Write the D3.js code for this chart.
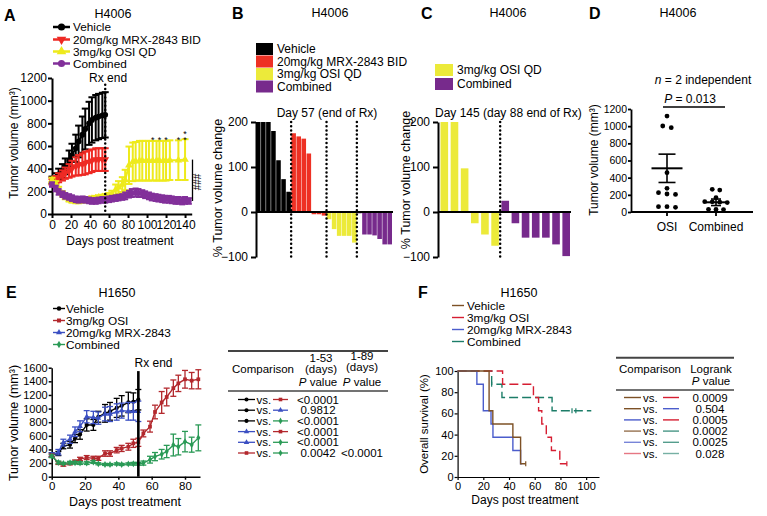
<!DOCTYPE html>
<html><head><meta charset="utf-8">
<script src="https://cdn.jsdelivr.net/npm/d3@7"></script>
<style>
body{margin:0;background:#fff}
svg{display:block}
text{font-family:"Liberation Sans",Arial,Helvetica,sans-serif;fill:#000}
</style>
</head><body>
<svg id="c" width="767" height="516"></svg>
<script>
// ---------------- DATA ----------------
// Panel A (H4006 growth)
const aDays = [0,4,7,11,14,18,21,25,28,32,35,39,42,46,49,53,56];
const aVehMean = [300,320,350,380,420,470,520,580,640,700,750,800,830,850,860,870,875];
const aVehSem  = [30,40,50,60,70,90,100,120,140,160,180,190,200,200,200,200,200];
const aMrxMean = [290,300,320,340,360,380,400,420,430,440,450,460,470,480,480,480,480];
const aMrxSem  = [30,35,40,45,50,60,70,80,90,95,100,100,100,100,100,100,100];
const aOsiDays = [0,4,7,11,14,18,21,25,28,32,35,39,42,46,49,53,56,60,63,67,70,74,77,81,85,88,92,95,99,102,106,110,113,117,120,124,133,140];
const aOsiMean = [300,270,220,180,150,130,120,115,115,120,125,130,135,140,145,150,155,160,175,215,235,260,300,430,460,465,470,470,470,470,470,470,470,470,470,475,475,480];
const aOsiSem  = [20,20,20,20,20,20,20,20,20,20,20,20,20,20,20,20,20,25,30,45,55,65,90,165,170,170,175,175,175,175,175,175,175,175,175,175,175,180];
const aCombDays = [0,4,7,11,14,18,21,25,28,32,35,39,42,46,49,53,56,60,63,67,70,74,77,81,84,88,91,95,98,102,105,109,112,116,119,123,126,130,133,137,140,144];
const aCombMean = [260,225,195,175,160,150,140,130,125,130,125,120,115,115,120,125,125,130,135,140,145,150,160,175,185,190,185,180,170,160,150,145,140,135,130,130,125,120,120,115,120,115];
const aCombSem  = [20,25,25,25,25,25,25,25,25,25,25,25,25,25,25,25,25,25,25,25,25,25,30,30,35,35,35,30,30,30,30,30,30,30,30,30,30,30,30,30,30,25];
const aStarDays = [106,113,120,133,140];
const aStarCount = [1,1,1,1,2];
const aLegend = ["Vehicle","20mg/kg MRX-2843 BID","3mg/kg OSI QD","Combined"];

// Panel B (waterfall day 57)
const bVehicle = [200,200,200,180,115,73,45];
const bMrx = [175,168,163,130,-5,-5,-8];
const bOsi = [-16,-38,-53,-53,-53,-68];
const bComb = [-3,-50,-50,-52,-60,-72,-72];
const bLegend = ["Vehicle","20mg/kg MRX-2843 BID","3mg/kg OSI QD","Combined"];

// Panel C (waterfall day 145)
const cOsi = [200,200,97,-25,-50,-75];
const cComb = [25,-25,-57,-57,-57,-72,-98];
const cLegend = ["3mg/kg OSI QD","Combined"];

// Panel D (scatter)
const dCats = ["OSI","Combined"];
const dOsi = [1118,1002,983,458,276,225,210,205,62,55,62];
const dComb = [264,256,167,120,118,115,110,31,28,30];
const dMean = [509,113];
const dSem = [165,38];

// Panel E (H1650 growth)
const eDays = [0,4,7,11,14,17,21,25,28,32,35,39,42,46,49,52];
const eVehMean = [320,340,450,470,560,620,760,760,880,930,960,1010,1040,1090,1100,1130];
const eVehSem  = [30,30,40,50,60,70,90,80,80,130,130,140,150,150,130,150];
const eMrxMean = [320,360,500,550,660,740,880,870,860,920,920,950,970,960,960,960];
const eMrxSem  = [30,40,50,60,70,80,90,90,90,100,110,120,110,130,130,150];
const eLongDays = [0,4,7,11,14,17,21,25,28,32,35,39,42,46,49,52,55,59,62,66,69,73,76,80,84,88];
const eOsiMean = [310,200,175,195,220,260,280,270,270,340,340,390,415,440,490,505,635,735,950,1090,1170,1300,1370,1430,1410,1430];
const eOsiSem  = [20,20,20,20,25,25,30,30,30,40,40,40,45,50,60,60,50,80,100,160,130,120,120,130,120,140];
const eCombMean = [300,210,195,205,205,200,200,215,190,180,178,188,180,188,190,190,200,250,295,330,370,465,440,515,470,570];
const eCombSem  = [20,20,15,20,20,20,20,20,15,15,15,15,15,15,20,20,30,50,60,70,90,160,120,150,110,190];
const eLegend = ["Vehicle","3mg/kg OSI","20mg/kg MRX-2843","Combined"];
const eCmpRows = [["Vehicle","OSI"],["Vehicle","MRX"],["Vehicle","Combined"],["MRX","OSI"],["MRX","Combined"],["OSI","Combined"]];
const eP53 = ["<0.0001","0.9812","<0.0001","<0.0001","<0.0001","0.0042"];
const eP89 = ["","","","","","<0.0001"];

// Panel F (survival)
const fVehT = [0,24.5,27.4,43,49,53];
const fVehS = [100,62.5,50,37.5,12.5,12.5];
const fMrxT = [0,15,20,26,27.5,43,49,50];
const fMrxS = [100,87.5,62.5,50,37.5,25,12.5,12.5];
const fOsiT = [0,35,59,63,65.5,69,73,79.5,85];
const fOsiS = [100,87.5,75,62.5,50,37.5,25,12.5,12.5];
const fCombT = [0,26.5,34.5,73.5,104];
const fCombS = [100,87.5,75,62.5,62.5];
const fCensorVeh = [53], fCensorOsi = [85], fCensorComb = [26.5,89,92];
const fLegend = ["Vehicle","3mg/kg OSI","20mg/kg MRX-2843","Combined"];
const fCmpRows = [["Vehicle","OSI"],["Vehicle","MRX"],["MRX","OSI"],["Vehicle","Combined"],["MRX","Combined"],["OSI","Combined"]];
const fP = ["0.0009","0.504","0.0005","0.0002","0.0025","0.028"];

// ---------------- DRAW ----------------
const FONT = '"Liberation Sans", Arial, Helvetica, sans-serif';
const svg = d3.select("#c");
const intFmt = d3.format("d");

function txt(g, x, y, s, o = {}) {
  const t = g.append("text").attr("x", x).attr("y", y)
    .attr("font-size", o.fs || 12).attr("text-anchor", o.anchor || "start").text(s);
  if (o.bold) t.attr("font-weight", "bold");
  if (o.rot) t.attr("transform", `rotate(-90,${x},${y})`);
  return t;
}
function axisStyle(g, fs, sw) {
  g.attr("font-family", FONT).attr("font-size", fs);
  g.select(".domain").attr("stroke-width", sw).attr("stroke", "#000");
  g.selectAll(".tick line").attr("stroke-width", sw).attr("stroke", "#000");
  g.selectAll(".tick text").attr("fill", "#000");
}
function errSeries(g, xs, ys, days, mean, sem, o) {
  const grp = g.append("g");
  const idx = d3.range(days.length);
  grp.selectAll(null).data(idx).enter().append("line")
    .attr("x1", i => xs(days[i])).attr("x2", i => xs(days[i]))
    .attr("y1", i => ys(mean[i] - sem[i])).attr("y2", i => ys(mean[i] + sem[i]))
    .attr("stroke", o.color).attr("stroke-width", o.ew);
  [1, -1].forEach(sg => {
    grp.selectAll(null).data(idx).enter().append("line")
      .attr("x1", i => xs(days[i]) - o.cap).attr("x2", i => xs(days[i]) + o.cap)
      .attr("y1", i => ys(mean[i] + sg * sem[i])).attr("y2", i => ys(mean[i] + sg * sem[i]))
      .attr("stroke", o.color).attr("stroke-width", o.ew);
  });
  grp.append("path").datum(idx)
    .attr("d", d3.line().x(i => xs(days[i])).y(i => ys(mean[i])))
    .attr("fill", "none").attr("stroke", o.color).attr("stroke-width", o.lw);
  grp.selectAll(null).data(idx).enter().append("path")
    .attr("d", d3.symbol().type(o.sym).size(o.size))
    .attr("transform", i => `translate(${xs(days[i])},${ys(mean[i])}) rotate(${o.rot || 0})`)
    .attr("fill", o.color);
}

// ===== Panel A =====
(function () {
  const g = svg.append("g");
  const x = d3.scaleLinear().domain([0, 147]).range([52, 191.7]);
  const y = d3.scaleLinear().domain([0, 1200]).range([214, 78]);
  txt(g, 4, 21, "A", { fs: 16, bold: true });
  txt(g, 113, 18, "H4006", { fs: 12.5, anchor: "middle" });
  g.append("g").attr("transform", "translate(0,214)")
    .call(d3.axisBottom(x).tickValues(d3.range(0, 141, 20)).tickFormat(intFmt).tickSize(4).tickPadding(2).tickSizeOuter(0))
    .call(a => axisStyle(a, 12, 2));
  g.append("g").attr("transform", "translate(52,0)")
    .call(d3.axisLeft(y).tickValues(d3.range(0, 1201, 200)).tickFormat(intFmt).tickSize(4).tickPadding(1).tickSizeOuter(0))
    .call(a => axisStyle(a, 12, 2));
  txt(g, 18, 143, "Tumor volume (mm³)", { fs: 12, anchor: "middle", rot: true });
  txt(g, 120, 245, "Days post treatment", { fs: 12, anchor: "middle" });

  const styles = [
    { color: "#000000", sym: d3.symbolCircle, size: 26, rot: 0 },
    { color: "#ee2a24", sym: d3.symbolTriangle, size: 26, rot: 180 },
    { color: "#eeea1c", sym: d3.symbolTriangle, size: 26, rot: 0 },
    { color: "#82309a", sym: d3.symbolCircle, size: 26, rot: 0 }
  ];
  errSeries(g, x, y, aDays, aVehMean, aVehSem, Object.assign({ ew: 2, cap: 3.5, lw: 2 }, styles[0]));
  errSeries(g, x, y, aDays, aMrxMean, aMrxSem, Object.assign({ ew: 2, cap: 3.5, lw: 2 }, styles[1]));
  errSeries(g, x, y, aOsiDays, aOsiMean, aOsiSem, Object.assign({ ew: 2, cap: 3.5, lw: 2 }, styles[2]));
  errSeries(g, x, y, aCombDays, aCombMean, aCombSem, Object.assign({ ew: 2, cap: 3, lw: 2 }, styles[3]));

  // Rx end dotted line
  g.append("line").attr("x1", x(56)).attr("x2", x(56)).attr("y1", y(1140)).attr("y2", y(0))
    .attr("stroke", "#000").attr("stroke-width", 2.5).attr("stroke-dasharray", "0,4.2").attr("stroke-linecap", "round");
  txt(g, x(59), 82, "Rx end", { fs: 12, anchor: "middle" });

  // stars (stacked stars drawn as one text with tspans)
  aStarDays.forEach((d, i) => {
    const t = txt(g, x(d), y(620) - 1, "", { fs: 9, anchor: "middle" });
    for (let k = 0; k < aStarCount[i]; k++) {
      t.append("tspan").attr("x", x(d)).attr("dy", k === 0 ? 0 : -6).text("*");
    }
  });
  // ### bracket
  const last = aOsiMean.length - 1, lastC = aCombMean.length - 1;
  g.append("line").attr("x1", 192.5).attr("x2", 192.5)
    .attr("y1", y(aOsiMean[last])).attr("y2", y(aCombMean[lastC]))
    .attr("stroke", "#000").attr("stroke-width", 1.3);
  txt(g, 201, 182, "###", { fs: 10, anchor: "middle", rot: true });

  // legend
  const ly = [27, 39.5, 51.5, 63.5];
  aLegend.forEach((s, i) => {
    g.append("line").attr("x1", 53).attr("x2", 70).attr("y1", ly[i]).attr("y2", ly[i])
      .attr("stroke", styles[i].color).attr("stroke-width", 2.5);
    g.append("path").attr("d", d3.symbol().type(styles[i].sym).size(40))
      .attr("transform", `translate(61.5,${ly[i]}) rotate(${styles[i].rot})`).attr("fill", styles[i].color);
    txt(g, 73, ly[i] + 4.2, s, { fs: 11.8 });
  });
})();

// ===== Waterfall helper =====
function waterfall(g, groups, range, pad, yAxisX) {
  const all = [];
  groups.forEach((gr, gi) => gr.vals.forEach(v => all.push({ v, gi })));
  const x = d3.scaleBand().domain(d3.range(all.length)).range(range).paddingInner(pad).paddingOuter(0);
  const y = d3.scaleLinear().domain([-100, 200]).range([257, 122]);
  g.selectAll(null).data(all).enter().append("rect")
    .attr("x", (d, i) => x(i)).attr("width", x.bandwidth())
    .attr("y", d => Math.min(y(d.v), y(0))).attr("height", d => Math.abs(y(d.v) - y(0)))
    .attr("fill", d => groups[d.gi].color);
  let start = 0;
  const bounds = [];
  groups.forEach((gr, gi) => { if (gi > 0) bounds.push(start); start += gr.vals.length; });
  bounds.forEach(b => {
    const bx = x(b) - x.step() * pad / 2;
    g.append("line").attr("x1", bx).attr("x2", bx).attr("y1", y(200)).attr("y2", 260)
      .attr("stroke", "#000").attr("stroke-width", 2.5).attr("stroke-dasharray", "0,4.2").attr("stroke-linecap", "round");
  });
  g.append("g").attr("transform", `translate(${yAxisX},0)`)
    .call(d3.axisLeft(y).tickValues([-100, 0, 100, 200]).tickFormat(intFmt).tickSize(5).tickPadding(3).tickSizeOuter(0))
    .call(a => axisStyle(a, 12, 2));
  g.append("line").attr("x1", yAxisX).attr("x2", range[1] + 1).attr("y1", y(0)).attr("y2", y(0))
    .attr("stroke", "#000").attr("stroke-width", 2);
  return { x, y };
}

// ===== Panel B =====
(function () {
  const g = svg.append("g");
  txt(g, 232, 19, "B", { fs: 16, bold: true });
  txt(g, 330, 17, "H4006", { fs: 12.5, anchor: "middle" });
  const cols = ["#000000", "#ee3124", "#ecea3a", "#772a8c"];
  waterfall(g, [
    { vals: bVehicle, color: cols[0] }, { vals: bMrx, color: cols[1] },
    { vals: bOsi, color: cols[2] }, { vals: bComb, color: cols[3] }], [256, 392], 0.1, 256);
  const ly = [49, 61.5, 74, 86.5];
  bLegend.forEach((s, i) => {
    g.append("rect").attr("x", 256).attr("y", ly[i] - 6).attr("width", 17).attr("height", 12).attr("fill", cols[i]);
    txt(g, 277, ly[i] + 4.3, s, { fs: 12 });
  });
  txt(g, 327, 117, "Day 57 (end of Rx)", { fs: 12, anchor: "middle" });
  txt(g, 222, 188, "% Tumor volume change", { fs: 12.5, anchor: "middle", rot: true });
})();

// ===== Panel C =====
(function () {
  const g = svg.append("g");
  txt(g, 421, 19, "C", { fs: 16, bold: true });
  txt(g, 508, 17, "H4006", { fs: 12.5, anchor: "middle" });
  const cols = ["#ecea3a", "#772a8c"];
  waterfall(g, [{ vals: cOsi, color: cols[0] }, { vals: cComb, color: cols[1] }], [440.5, 570], 0.25, 438);
  const ly = [70, 84];
  cLegend.forEach((s, i) => {
    g.append("rect").attr("x", 435).attr("y", ly[i] - 6).attr("width", 18).attr("height", 12).attr("fill", cols[i]);
    txt(g, 457, ly[i] + 4.3, s, { fs: 12 });
  });
  txt(g, 435, 117, "Day 145 (day 88 end of Rx)", { fs: 12 });
  txt(g, 410, 180, "% Tumor volume change", { fs: 12.5, anchor: "middle", rot: true });
})();

// ===== Panel D =====
(function () {
  const g = svg.append("g");
  txt(g, 589, 19, "D", { fs: 16, bold: true });
  txt(g, 678, 17, "H4006", { fs: 12.5, anchor: "middle" });
  const x = d3.scalePoint().domain(dCats).range([667, 716]);
  const y = d3.scaleLinear().domain([0, 1200]).range([212, 109]);
  g.append("g").attr("transform", "translate(631,0)")
    .call(d3.axisLeft(y).tickValues(d3.range(0, 1201, 200)).tickFormat(intFmt).tickSize(3).tickPadding(1).tickSizeOuter(0))
    .call(a => axisStyle(a, 10.5, 1.8));
  g.append("line").attr("x1", 631).attr("x2", 753).attr("y1", 212).attr("y2", 212).attr("stroke", "#000").attr("stroke-width", 2);
  dCats.forEach(c => {
    g.append("line").attr("x1", x(c)).attr("x2", x(c)).attr("y1", 212).attr("y2", 216).attr("stroke", "#000").attr("stroke-width", 1.8);
    txt(g, x(c), 231, c, { fs: 12, anchor: "middle" });
  });
  txt(g, 598, 160, "Tumor volume (mm³)", { fs: 12, anchor: "middle", rot: true });

  // beeswarm-like spread
  function spread(vals, thr, gap) {
    const sorted = vals.map((v, i) => ({ v, i })).sort((a, b) => b.v - a.v);
    const out = new Array(vals.length);
    let grp = [];
    const flush = () => { grp.forEach((p, k) => out[p.i] = (k - (grp.length - 1) / 2) * gap); grp = []; };
    sorted.forEach(p => { if (grp.length && grp[0].v - p.v > thr) flush(); grp.push(p); });
    flush();
    return out;
  }
  [dOsi, dComb].forEach((vals, ci) => {
    const off = spread(vals, ci === 0 ? 45 : 30, ci === 0 ? 8.5 : 7.5);
    g.selectAll(null).data(vals).enter().append("circle")
      .attr("cx", (d, i) => x(dCats[ci]) + off[i]).attr("cy", d => y(d)).attr("r", 2.4).attr("fill", "#000");
    const cx = x(dCats[ci]);
    const mw = ci === 0 ? 15.5 : 10, sw = ci === 0 ? 8.5 : 5;
    g.append("line").attr("x1", cx - mw).attr("x2", cx + mw).attr("y1", y(dMean[ci])).attr("y2", y(dMean[ci])).attr("stroke", "#000").attr("stroke-width", 2);
    g.append("line").attr("x1", cx).attr("x2", cx).attr("y1", y(dMean[ci] - dSem[ci])).attr("y2", y(dMean[ci] + dSem[ci])).attr("stroke", "#000").attr("stroke-width", 1.6);
    [1, -1].forEach(s => g.append("line").attr("x1", cx - sw).attr("x2", cx + sw)
      .attr("y1", y(dMean[ci] + s * dSem[ci])).attr("y2", y(dMean[ci] + s * dSem[ci])).attr("stroke", "#000").attr("stroke-width", 1.6));
  });
  const t1 = g.append("text").attr("x", 703).attr("y", 84).attr("font-size", 12).attr("text-anchor", "middle");
  t1.append("tspan").attr("font-style", "italic").text("n");
  t1.append("tspan").text(" = 2 independent");
  const t2 = g.append("text").attr("x", 690).attr("y", 103).attr("font-size", 12).attr("text-anchor", "middle");
  t2.append("tspan").attr("font-style", "italic").text("P");
  t2.append("tspan").text(" = 0.013");
  g.append("line").attr("x1", 663).attr("x2", 725).attr("y1", 107).attr("y2", 107).attr("stroke", "#000").attr("stroke-width", 1.3);
})();

// ===== Panel E =====
const eStyles = {
  Vehicle: { color: "#000000", sym: d3.symbolCircle, size: 14, rot: 0 },
  OSI: { color: "#b3282d", sym: d3.symbolSquare, size: 14, rot: 0 },
  MRX: { color: "#3b4fc2", sym: d3.symbolTriangle, size: 14, rot: 0 },
  Combined: { color: "#2a9a56", sym: d3.symbolDiamond, size: 14, rot: 0 }
};
(function () {
  const g = svg.append("g");
  txt(g, 6, 298, "E", { fs: 16, bold: true });
  txt(g, 117, 297, "H1650", { fs: 12.5, anchor: "middle" });
  const x = d3.scaleLinear().domain([0, 89]).range([51.7, 200]);
  const y = d3.scaleLinear().domain([0, 1600]).range([476.7, 367.7]);
  g.append("g").attr("transform", "translate(0,476.7)")
    .call(d3.axisBottom(x).tickValues([0, 20, 40, 60, 80]).tickFormat(intFmt).tickSize(3).tickPadding(2).tickSizeOuter(0))
    .call(a => axisStyle(a, 11.5, 1.5));
  g.append("g").attr("transform", "translate(51.7,0)")
    .call(d3.axisLeft(y).tickValues(d3.range(0, 1601, 200)).tickFormat(intFmt).tickSize(3).tickPadding(1).tickSizeOuter(0))
    .call(a => axisStyle(a, 11, 1.5));
  txt(g, 18, 423, "Tumor volume (mm³)", { fs: 12.5, anchor: "middle", rot: true });
  txt(g, 125, 506, "Days post treatment", { fs: 12.5, anchor: "middle" });
  const base = { ew: 1.3, cap: 3, lw: 1.4 };
  errSeries(g, x, y, eDays, eVehMean, eVehSem, Object.assign({}, base, eStyles.Vehicle));
  errSeries(g, x, y, eDays, eMrxMean, eMrxSem, Object.assign({}, base, eStyles.MRX));
  errSeries(g, x, y, eLongDays, eOsiMean, eOsiSem, Object.assign({}, base, eStyles.OSI));
  errSeries(g, x, y, eLongDays, eCombMean, eCombSem, Object.assign({}, base, eStyles.Combined));
  g.append("line").attr("x1", x(52)).attr("x2", x(52)).attr("y1", y(1550)).attr("y2", y(0)).attr("stroke", "#000").attr("stroke-width", 2.6);
  txt(g, 153.5, 367, "Rx end", { fs: 12, anchor: "middle" });
  const keys = ["Vehicle", "OSI", "MRX", "Combined"];
  const ly = [308.5, 320.5, 332.5, 344.5];
  eLegend.forEach((s, i) => {
    const st = eStyles[keys[i]];
    g.append("line").attr("x1", 53).attr("x2", 65).attr("y1", ly[i]).attr("y2", ly[i]).attr("stroke", st.color).attr("stroke-width", 1.4);
    g.append("path").attr("d", d3.symbol().type(st.sym).size(16)).attr("transform", `translate(59,${ly[i]})`).attr("fill", st.color);
    txt(g, 66, ly[i] + 4.2, s, { fs: 11.8 });
  });

  // table
  const t = svg.append("g");
  t.append("line").attr("x1", 228).attr("x2", 388).attr("y1", 351).attr("y2", 351).attr("stroke", "#444").attr("stroke-width", 2);
  t.append("line").attr("x1", 228).attr("x2", 388).attr("y1", 391).attr("y2", 391).attr("stroke", "#444").attr("stroke-width", 1.6);
  txt(t, 232, 373, "Comparison", { fs: 11.5 });
  const c1 = 318, c2 = 362;
  txt(t, c1 + 3, 362, "1-53", { fs: 11.5, anchor: "middle" });
  txt(t, c1 + 3, 372.5, "(days)", { fs: 11.5, anchor: "middle" });
  txt(t, c2, 360, "1-89", { fs: 11.5, anchor: "middle" });
  txt(t, c2, 370.5, "(days)", { fs: 11.5, anchor: "middle" });
  [c1, c2].forEach(cx => {
    const pv = t.append("text").attr("x", cx).attr("y", 386).attr("font-size", 11.5).attr("text-anchor", "middle");
    pv.append("tspan").attr("font-style", "italic").text("P");
    pv.append("tspan").text(" value");
  });
  eCmpRows.forEach((r, i) => {
    const ry = 399.5 + i * 10.7;
    [[238, 255], [273, 288]].forEach((xs, k) => {
      const st = eStyles[r[k]];
      t.append("line").attr("x1", xs[0]).attr("x2", xs[1]).attr("y1", ry).attr("y2", ry).attr("stroke", st.color).attr("stroke-width", 1.3);
      t.append("path").attr("d", d3.symbol().type(st.sym).size(13)).attr("transform", `translate(${(xs[0] + xs[1]) / 2},${ry})`).attr("fill", st.color);
    });
    txt(t, 256.5, ry + 4, "vs.", { fs: 11.5 });
    txt(t, c1, ry + 4, eP53[i], { fs: 11.5, anchor: "middle" });
    if (eP89[i]) txt(t, c2, ry + 4, eP89[i], { fs: 11.5, anchor: "middle" });
  });
})();

// ===== Panel F =====
const fStyles = {
  Vehicle: { color: "#7d5126", dash: null },
  OSI: { color: "#d61e32", dash: "9,4" },
  MRX: { color: "#4b5dcc", dash: null },
  Combined: { color: "#1c7d68", dash: "9,4" }
};
(function () {
  const g = svg.append("g");
  txt(g, 418, 298, "F", { fs: 16, bold: true });
  txt(g, 519, 297, "H1650", { fs: 12.5, anchor: "middle" });
  const x = d3.scaleLinear().domain([0, 110]).range([457.6, 599]);
  const y = d3.scaleLinear().domain([0, 100]).range([477, 371]);
  g.append("g").attr("transform", "translate(0,477)")
    .call(d3.axisBottom(x).tickValues([0, 20, 40, 60, 80, 100]).tickFormat(intFmt).tickSize(3).tickPadding(2).tickSizeOuter(0))
    .call(a => axisStyle(a, 11, 1.2));
  g.append("g").attr("transform", "translate(457.6,0)")
    .call(d3.axisLeft(y).tickValues([0, 20, 40, 60, 80, 100]).tickFormat(intFmt).tickSize(3).tickPadding(1).tickSizeOuter(0))
    .call(a => axisStyle(a, 11, 1.2));
  txt(g, 427.5, 424, "Overall survival (%)", { fs: 11.5, anchor: "middle", rot: true });
  txt(g, 525, 504, "Days post treatment", { fs: 12, anchor: "middle" });
  const line = d3.line().curve(d3.curveStepAfter).x(d => x(d[0])).y(d => y(d[1]));
  const series = [
    ["Combined", fCombT, fCombS, fCensorComb],
    ["OSI", fOsiT, fOsiS, fCensorOsi],
    ["MRX", fMrxT, fMrxS, []],
    ["Vehicle", fVehT, fVehS, fCensorVeh]
  ];
  series.forEach(([k, T, S, cens]) => {
    const st = fStyles[k];
    const pts = T.map((t, i) => [t, S[i]]);
    const p = g.append("path").datum(pts).attr("d", line).attr("fill", "none")
      .attr("stroke", st.color).attr("stroke-width", 1.4);
    if (st.dash) p.attr("stroke-dasharray", st.dash);
    cens.forEach(c => {
      let s = S[0];
      T.forEach((t, i) => { if (t <= c) s = S[i]; });
      g.append("line").attr("x1", x(c)).attr("x2", x(c)).attr("y1", y(s) - 2.5).attr("y2", y(s) + 2.5)
        .attr("stroke", st.color).attr("stroke-width", 1.2);
    });
  });
  const keys = ["Vehicle", "OSI", "MRX", "Combined"];
  const ly = [305.5, 317.5, 329.5, 341.5];
  fLegend.forEach((s, i) => {
    g.append("line").attr("x1", 452).attr("x2", 464).attr("y1", ly[i]).attr("y2", ly[i]).attr("stroke", fStyles[keys[i]].color).attr("stroke-width", 1.4);
    txt(g, 467, ly[i] + 4.2, s, { fs: 11.8 });
  });

  // table
  const t = svg.append("g");
  t.append("line").attr("x1", 616).attr("x2", 734).attr("y1", 357.7).attr("y2", 357.7).attr("stroke", "#444").attr("stroke-width", 2);
  t.append("line").attr("x1", 616).attr("x2", 734).attr("y1", 390).attr("y2", 390).attr("stroke", "#444").attr("stroke-width", 1.6);
  txt(t, 619, 373, "Comparison", { fs: 11.5 });
  txt(t, 711, 373, "Logrank", { fs: 11.5, anchor: "middle" });
  const pv = t.append("text").attr("x", 711).attr("y", 385).attr("font-size", 11.5).attr("text-anchor", "middle");
  pv.append("tspan").attr("font-style", "italic").text("P");
  pv.append("tspan").text(" value");
  const op = [1, 1, 1, 0.8, 0.75, 0.6];
  fCmpRows.forEach((r, i) => {
    const ry = 397.5 + i * 11.2;
    [[624, 641], [663, 679]].forEach((xs, k) => {
      t.append("line").attr("x1", xs[0]).attr("x2", xs[1]).attr("y1", ry).attr("y2", ry)
        .attr("stroke", fStyles[r[k]].color).attr("stroke-width", 1.4).attr("opacity", op[i]);
    });
    txt(t, 643, ry + 4, "vs.", { fs: 11.5 });
    txt(t, 710, ry + 4, fP[i], { fs: 11.5, anchor: "middle" });
  });
})();
</script>
</body></html>
